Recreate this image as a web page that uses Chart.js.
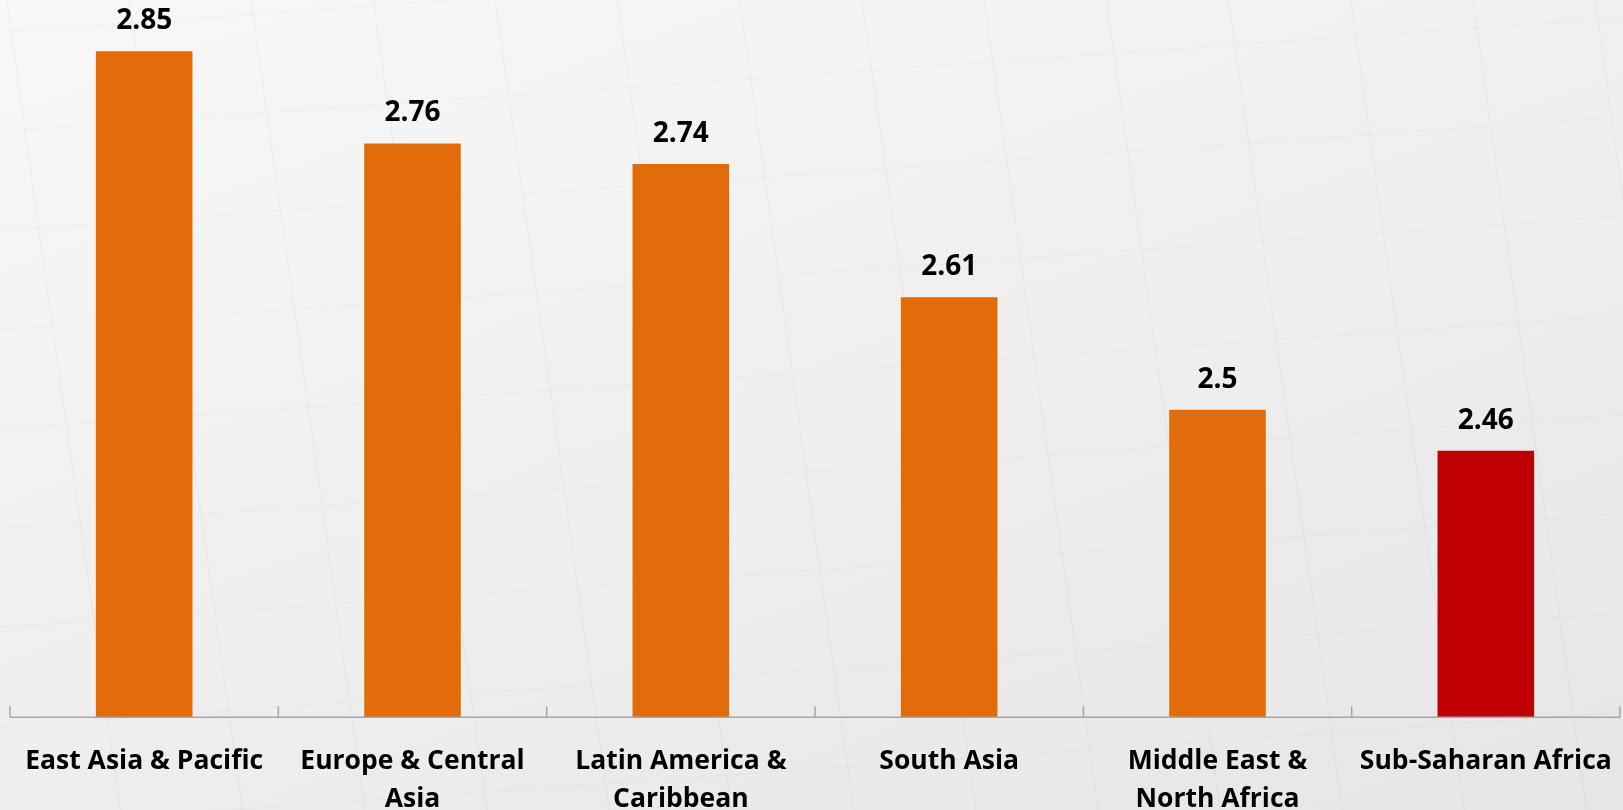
<!DOCTYPE html>
<html>
<head>
<meta charset="utf-8">
<script src="https://cdn.jsdelivr.net/npm/chart.js@4"></script>
<style>
    html, body {
        margin: 0;
        padding: 0;
        overflow: hidden;
        width: 1623px;
        height: 810px;
        background:
            repeating-linear-gradient(82deg, rgba(0,0,0,0) 0px, rgba(0,0,0,0) 118px, rgba(0,0,0,0.03) 119px, rgba(0,0,0,0) 121px),
            repeating-linear-gradient(-4deg, rgba(0,0,0,0) 0px, rgba(0,0,0,0) 96px, rgba(0,0,0,0.025) 97px, rgba(0,0,0,0) 99px),
            linear-gradient(160deg, #f8f8f8 0%, #efefef 50%, #e6e6e6 100%);
    }
    #wrap {
        position: relative;
        width: 1623px;
        height: 843px;
    }
</style>
</head>
<body>
<div id="wrap"><canvas id="chart-bar"></canvas></div>
<script>
// data
const regions = [
    ["East Asia & Pacific"],
    ["Europe & Central", "Asia"],
    ["Latin America &", "Caribbean"],
    ["South Asia"],
    ["Middle East &", "North Africa"],
    ["Sub-Saharan Africa"]
];
const scores = [2.85, 2.76, 2.74, 2.61, 2.5, 2.46];
const barColors = ['#e36c0a', '#e36c0a', '#e36c0a', '#e36c0a', '#e36c0a', '#c00000'];

// value labels above the bars
const valueLabels = {
    id: 'valueLabels',
    afterDatasetsDraw(chart) {
        const c = chart.ctx;
        const meta = chart.getDatasetMeta(0);
        c.save();
        c.font = 'bold 28px "Open Sans"';
        c.fillStyle = '#000';
        c.textAlign = 'center';
        c.textBaseline = 'middle';
        meta.data.forEach((bar, i) => {
            c.fillText(String(scores[i]), bar.x, bar.y - 30);
        });
        c.restore();
    }
};

// axis line with small upward ticks between categories
const axisTicks = {
    id: 'axisTicks',
    afterDatasetsDraw(chart) {
        const c = chart.ctx;
        const x = chart.scales.x;
        const y0 = chart.chartArea.bottom;
        const half = (x.getPixelForValue(1) - x.getPixelForValue(0)) / 2;
        c.save();
        c.strokeStyle = '#a6a6a6';
        c.lineWidth = 1.5;
        c.beginPath();
        c.moveTo(chart.chartArea.left, y0);
        c.lineTo(chart.chartArea.right, y0);
        for (let i = 0; i <= scores.length; i++) {
            const px = x.getPixelForValue(0) - half + i * half * 2;
            c.moveTo(px, y0);
            c.lineTo(px, y0 - 11);
        }
        c.stroke();
        c.restore();
    }
};

const chartbar = document.getElementById('chart-bar');

new Chart(chartbar, {
    type: 'bar',
    data: {
        labels: regions,
        datasets: [{
            data: scores,
            backgroundColor: barColors,
            categoryPercentage: 1,
            barPercentage: 0.36
        }]
    },
    plugins: [valueLabels, axisTicks],
    options: {
        responsive: true,
        maintainAspectRatio: false,
        animation: false,
        layout: {
            padding: { left: 10, right: 3, top: 0, bottom: 0 }
        },
        plugins: {
            legend: { display: false },
            tooltip: { enabled: false }
        },
        scales: {
            x: {
                grid: { display: false, drawTicks: false },
                border: { display: false },
                afterFit(scale) {
                    // labels may hang over the edges, like the original
                    scale.paddingLeft = 0;
                    scale.paddingRight = 0;
                },
                ticks: {
                    color: '#000',
                    padding: 25,
                    maxRotation: 0,
                    autoSkip: false,
                    font: { family: 'Open Sans', weight: 'bold', size: 26.5, lineHeight: 1.43 }
                }
            },
            y: {
                display: false,
                min: 2.2,
                max: 2.9
            }
        }
    }
});
</script>
</body>
</html>
